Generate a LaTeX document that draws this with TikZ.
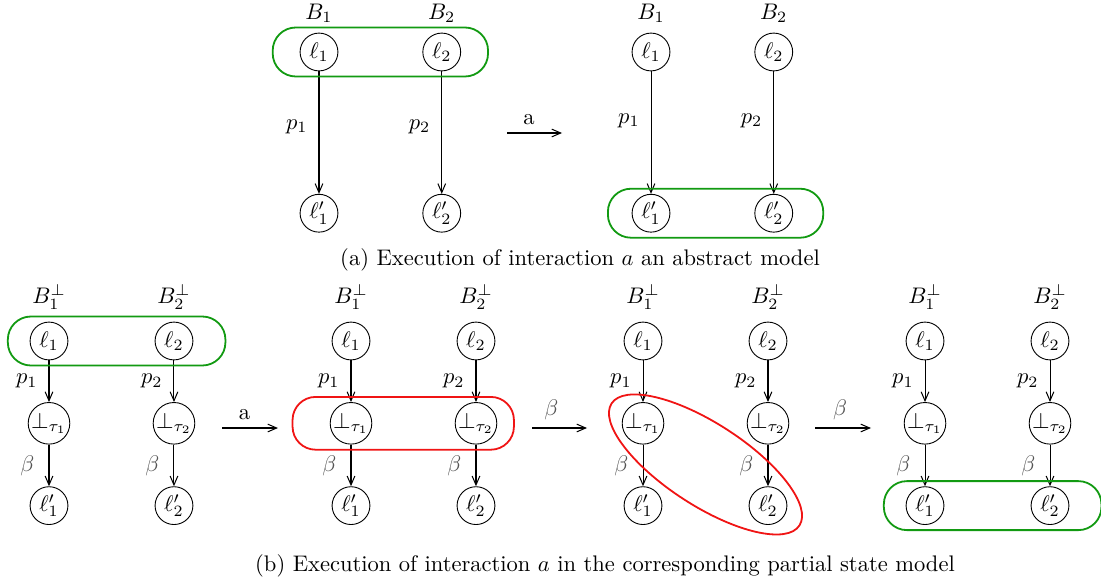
\documentclass[tikz,border=0pt]{standalone}
\usepackage{amsmath,amssymb}
\usetikzlibrary{arrows.meta,positioning,fit,calc}
\definecolor{grpgreen}{HTML}{129A12}
\definecolor{grpred}{HTML}{F01414}
\definecolor{lblgray}{HTML}{555555}

\begin{document}
\begin{tikzpicture}[x=0.0156cm, y=-0.0156cm,
    loc/.style={draw, circle, minimum size=0.59cm, inner sep=0pt},
    arr/.style={-{Straight Barb[length=1.4mm,width=1.2mm]}, line width=0.45pt},
    grp/.style={draw=grpgreen, rounded corners=0.36cm, line width=0.8pt, inner xsep=0.42cm, inner ysep=0.08cm},
    redgrp/.style={grp, draw=grpred},
    lbl/.style={left=1.5pt},
    blbl/.style={left=3pt, text=lblgray}]
  \useasboundingbox (0,0) rectangle (1101,585);
  \node[loc] (al1) at (319,52) {$\ell_1$};
  \node[loc, right=1.31cm of al1] (al2) {$\ell_2$};
  \node[loc, below=1.91cm of al1] (al1p) {$\ell'_1$};
  \node[loc, below=1.91cm of al2] (al2p) {$\ell'_2$};
  \node[above=1pt of al1] (aB1) {$B_1$}; \node[above=1pt of al2] (aB2) {$B_2$};
  \draw[arr] (al1) -- node[lbl, pos=0.45] {$p_1$} (al1p); \draw[arr] (al2) -- node[lbl, pos=0.45] {$p_2$} (al2p);
  \node[grp, fit=(al1)(al2)] (agrp) {};
  \coordinate (ta0) at (507,133); \coordinate (ta1) at (562,133);
  \draw[arr] (ta0) -- node[above, pos=0.4] (talbl) {a} (ta1);
  \node[loc] (ar1) at (651,52) {$\ell_1$};
  \node[loc, right=1.31cm of ar1] (ar2) {$\ell_2$};
  \node[loc, below=1.91cm of ar1] (ar1p) {$\ell'_1$};
  \node[loc, below=1.91cm of ar2] (ar2p) {$\ell'_2$};
  \node[above=1pt of ar1] (arB1) {$B_1$}; \node[above=1pt of ar2] (arB2) {$B_2$};
  \draw[arr] (ar1) -- node[lbl, pos=0.4] {$p_1$} (ar1p); \draw[arr] (ar2) -- node[lbl, pos=0.4] {$p_2$} (ar2p);
  \node[grp, fit=(ar1p)(ar2p), xshift=0.05cm] (argrp) {};
  \node (capa) at (580,260) {(a) Execution of interaction $a$ an abstract model};
  \node[loc] (b1l1) at (49,341) {$\ell_1$};
  \node[loc, right=1.345cm of b1l1] (b1l2) {$\ell_2$};
  \node[loc, below=0.65cm of b1l1] (b1t1) {$\bot_{\tau_1}$}; \node[loc, below=0.65cm of b1l2] (b1t2) {$\bot_{\tau_2}$};
  \node[loc, below=0.65cm of b1t1] (b1m1) {$\ell'_1$}; \node[loc, below=0.65cm of b1t2] (b1m2) {$\ell'_2$};
  \node[above=2pt of b1l1] (b1B1) {$B_1^{\bot}$}; \node[above=2pt of b1l2] (b1B2) {$B_2^{\bot}$};
  \draw[arr] (b1l1) -- node[lbl] {$p_1$} (b1t1); \draw[arr] (b1l2) -- node[lbl] {$p_2$} (b1t2);
  \draw[arr] (b1t1) -- node[blbl] {$\beta$} (b1m1); \draw[arr] (b1t2) -- node[blbl] {$\beta$} (b1m2);
  \node[grp, fit=(b1l1)(b1l2), xshift=0.08cm] (b1grp) {};
  \coordinate (tb0) at (222,428); \coordinate (tb1) at (278,428);
  \draw[arr] (tb0) -- node[above, pos=0.4] (tblbl) {a} (tb1);
  \node[loc] (b2l1) at (351,341) {$\ell_1$};
  \node[loc, right=1.345cm of b2l1] (b2l2) {$\ell_2$};
  \node[loc, below=0.65cm of b2l1] (b2t1) {$\bot_{\tau_1}$}; \node[loc, below=0.65cm of b2l2] (b2t2) {$\bot_{\tau_2}$};
  \node[loc, below=0.65cm of b2t1] (b2m1) {$\ell'_1$}; \node[loc, below=0.65cm of b2t2] (b2m2) {$\ell'_2$};
  \node[above=2pt of b2l1] (b2B1) {$B_1^{\bot}$}; \node[above=2pt of b2l2] (b2B2) {$B_2^{\bot}$};
  \draw[arr] (b2l1) -- node[lbl] {$p_1$} (b2t1); \draw[arr] (b2l2) -- node[lbl] {$p_2$} (b2t2);
  \draw[arr] (b2t1) -- node[blbl] {$\beta$} (b2m1); \draw[arr] (b2t2) -- node[blbl] {$\beta$} (b2m2);
  \node[redgrp, fit=(b2t1)(b2t2), xshift=-0.16cm] (b2grp) {};
  \coordinate (tc0) at (532,428); \coordinate (tc1) at (587,428);
  \draw[arr] (tc0) -- node[above, pos=0.35, text=lblgray] (tclbl) {$\beta$} (tc1);
  \node[loc] (b3l1) at (643,341) {$\ell_1$};
  \node[loc, right=1.345cm of b3l1] (b3l2) {$\ell_2$};
  \node[loc, below=0.65cm of b3l1] (b3t1) {$\bot_{\tau_1}$}; \node[loc, below=0.65cm of b3l2] (b3t2) {$\bot_{\tau_2}$};
  \node[loc, below=0.65cm of b3t1] (b3m1) {$\ell'_1$}; \node[loc, below=0.65cm of b3t2] (b3m2) {$\ell'_2$};
  \node[above=2pt of b3l1] (b3B1) {$B_1^{\bot}$}; \node[above=2pt of b3l2] (b3B2) {$B_2^{\bot}$};
  \draw[arr] (b3l1) -- node[lbl] {$p_1$} (b3t1); \draw[arr] (b3l2) -- node[lbl] {$p_2$} (b3t2);
  \draw[arr] (b3t1) -- node[blbl] {$\beta$} (b3m1); \draw[arr] (b3t2) -- node[blbl] {$\beta$} (b3m2);
  \coordinate (b3c) at ($(b3t1)!0.5!(b3m2)$);
  \draw[draw=grpred, line width=0.8pt, rotate around={-33:(b3c)}] (b3c) ellipse [x radius=112, y radius=41];
  \coordinate (td0) at (815,428); \coordinate (td1) at (871,428);
  \draw[arr] (td0) -- node[above, pos=0.45, text=lblgray] (tdlbl) {$\beta$} (td1);
  \node[loc] (b4l1) at (925,341) {$\ell_1$};
  \node[loc, right=1.345cm of b4l1] (b4l2) {$\ell_2$};
  \node[loc, below=0.65cm of b4l1] (b4t1) {$\bot_{\tau_1}$}; \node[loc, below=0.65cm of b4l2] (b4t2) {$\bot_{\tau_2}$};
  \node[loc, below=0.65cm of b4t1] (b4m1) {$\ell'_1$}; \node[loc, below=0.65cm of b4t2] (b4m2) {$\ell'_2$};
  \node[above=2pt of b4l1] (b4B1) {$B_1^{\bot}$}; \node[above=2pt of b4l2] (b4B2) {$B_2^{\bot}$};
  \draw[arr] (b4l1) -- node[lbl] {$p_1$} (b4t1); \draw[arr] (b4l2) -- node[lbl] {$p_2$} (b4t2);
  \draw[arr] (b4t1) -- node[blbl] {$\beta$} (b4m1); \draw[arr] (b4t2) -- node[blbl] {$\beta$} (b4m2);
  \node[grp, fit=(b4m1)(b4m2), xshift=0.08cm] (b4grp) {};
  \node (capb) at (605,566) {(b) Execution of interaction $a$ in the corresponding partial state model};
\end{tikzpicture}
\end{document}
